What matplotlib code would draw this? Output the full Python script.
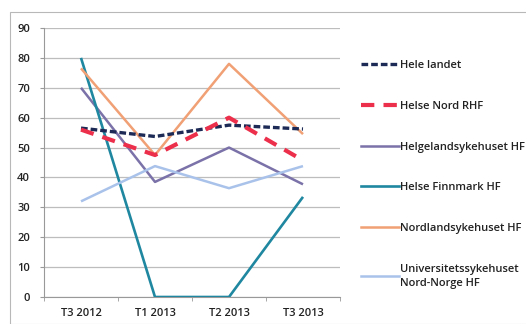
import matplotlib.pyplot as plt
from matplotlib.lines import Line2D
from matplotlib.patches import Rectangle

plt.rcParams['font.family'] = ['Open Sans', 'DejaVu Sans']

# ============ DATA ============
kvartaler = ["T3 2012", "T1 2013", "T2 2013", "T3 2013"]
hele_landet = [56.5, 53.7, 57.5, 56.2]
helse_nord = [56.0, 47.5, 60.0, 45.7]
helgeland = [70.0, 38.5, 50.0, 37.7]
finnmark = [80.0, 0.0, 0.0, 33.5]
nordland = [76.5, 47.5, 78.0, 54.5]
unn = [32.0, 43.8, 36.4, 43.8]
y_ticks = [0, 10, 20, 30, 40, 50, 60, 70, 80, 90]
# ==============================

W, H = 526, 324
fig = plt.figure(figsize=(W / 100, H / 100), dpi=100)
ax = fig.add_axes([44 / W, 1 - 297 / H, 296 / W, 269 / H])

# ramme rundt hele diagrammet (skannet utseende)
fig.add_artist(Rectangle((10 / W, 0.5 / H), 1.2, 1 - 12.5 / H,
                         transform=fig.transFigure, fill=False,
                         edgecolor="#b8b8b8", linewidth=0.8))

x = list(range(len(kvartaler)))
serier = [
    ("Hele landet", hele_landet, "#1c2a55", 2.4, (0, (2.0, 0.9))),
    ("Helse Nord RHF", helse_nord, "#ec2f4b", 3.0, (0, (3.2, 2.2))),
    ("Helgelandsykehuset HF", helgeland, "#7a72a8", 1.8, "-"),
    ("Helse Finnmark HF", finnmark, "#1f87a0", 1.9, "-"),
    ("Nordlandsykehuset HF", nordland, "#f0a074", 1.8, "-"),
    ("Universitetssykehuset\nNord-Norge HF", unn, "#a9c2ea", 1.8, "-"),
]

# tegnerekkefolge: heltrukne linjer forst, stiplede over
for navn, verdier, farge, lw, ls in serier[2:] + serier[:2]:
    ax.plot(x, verdier, color=farge, linewidth=lw, linestyle=ls,
            dash_capstyle="butt", solid_capstyle="butt", zorder=3)

ax.set_xlim(-0.5, len(kvartaler) - 0.5)
ax.set_ylim(0, 90)
ax.set_yticks(y_ticks)
ax.set_xticks(x)
ax.set_xticklabels(kvartaler)
ax.set_xticks([i - 0.5 for i in range(len(kvartaler) + 1)], minor=True)
ax.tick_params(axis="x", which="major", length=0, pad=8)
ax.tick_params(axis="x", which="minor", length=3, color="#999999")
ax.tick_params(axis="y", length=3, color="#999999", pad=7)
for lab in ax.get_xticklabels() + ax.get_yticklabels():
    lab.set_fontsize(8)
    lab.set_fontweight("semibold")
    lab.set_color("#222222")

ax.grid(axis="y", color="#bdbdbd", linewidth=0.9)
ax.set_axisbelow(True)
for side in ["top", "right"]:
    ax.spines[side].set_visible(False)
ax.spines["left"].set_color("#999999")
ax.spines["bottom"].set_color("#999999")

handles = [Line2D([], [], color=f, linewidth=lw, linestyle=ls, dash_capstyle="butt")
           for _, _, f, lw, ls in serier]
leg = fig.legend(handles, [s[0] for s in serier], loc="upper left",
                 bbox_to_anchor=(351 / W, 1 - 50 / H), frameon=False,
                 handlelength=3.4, handletextpad=0.15, labelspacing=2.68,
                 prop={"size": 8, "weight": "semibold"})
for t in leg.get_texts():
    t.set_color("#222222")
    t.set_linespacing(1.35)

plt.savefig("out.png", dpi=100)
